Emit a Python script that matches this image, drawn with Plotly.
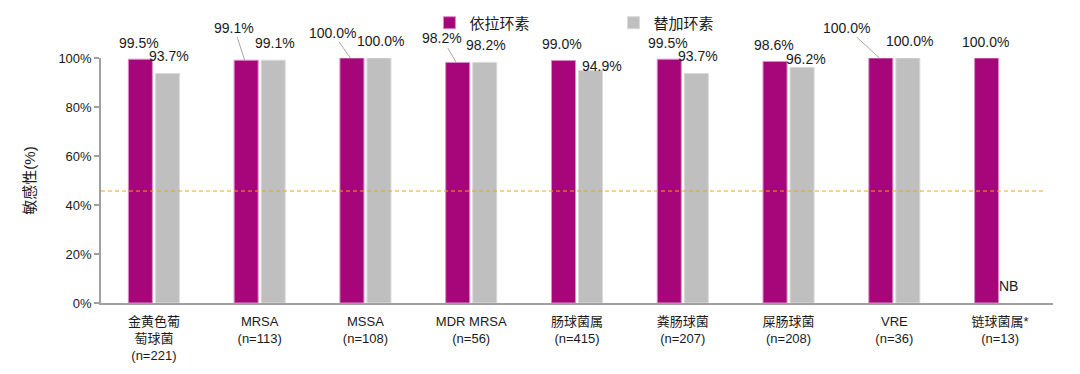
import plotly.graph_objects as go

# ---------------- data ----------------
categories = [
    "金黄色葡<br>萄球菌<br>(n=221)",
    "MRSA<br>(n=113)",
    "MSSA<br>(n=108)",
    "MDR MRSA<br>(n=56)",
    "肠球菌属<br>(n=415)",
    "粪肠球菌<br>(n=207)",
    "屎肠球菌<br>(n=208)",
    "VRE<br>(n=36)",
    "链球菌属*<br>(n=13)",
]
series_names = ["依拉环素", "替加环素"]
eravacycline = [99.5, 99.1, 100.0, 98.2, 99.0, 99.5, 98.6, 100.0, 100.0]
tigecycline = [93.7, 99.1, 100.0, 98.2, 94.9, 93.7, 96.2, 100.0, None]
missing_label = "NB"
reference_line = 45.7
y_ticks = [0, 20, 40, 60, 80, 100]
y_tick_text = [f"{t}%" for t in y_ticks]
y_title = "敏感性(%)"

# ---------------- style ----------------
FONT = "Liberation Sans, Arial, Noto Sans CJK SC, sans-serif"
MAGENTA = "#A6067A"
GRAY = "#BFBFBF"
TEXT = "#1a1a1a"
AXIS = "#A0A0A0"
BAR_OFF = 15  # px offset of each bar centre from the category centre

# label placement tweaks (pixel offsets) per series / category index
# (dx, dy_up) for plain labels; ("arrow", ax, ay) for labels with leader line
era_label_style = {1: ("arrow", -10.5, -32.5), 2: ("arrow", -18, -25.5),
                   3: ("arrow", -14, -24), 7: ("arrow", -33, -30.5)}
tgc_label_style = {4: (9.5, 4.5), 7: (0, 17), 6: (2.5, 8)}

fig = go.Figure()
fig.add_trace(go.Bar(
    x=categories, y=eravacycline, name=series_names[0],
    marker=dict(color=MAGENTA, line=dict(color="#D98CC4", width=1)),
))
fig.add_trace(go.Bar(
    x=categories, y=tigecycline, name=series_names[1],
    marker=dict(color=GRAY, line=dict(color="#DADADA", width=1)),
))

annotations = []
for i, (cat, v) in enumerate(zip(categories, eravacycline)):
    st = era_label_style.get(i)
    txt = f"{v:.1f}%"
    if st and st[0] == "arrow":
        annotations.append(dict(
            x=cat, y=v, xref="x", yref="y", text=txt, xshift=-BAR_OFF,
            showarrow=True, arrowhead=0, arrowwidth=1, arrowcolor="#A6A6A6",
            ax=st[1], ay=st[2], standoff=0,
            font=dict(family=FONT, size=14, color=TEXT)))
    else:
        dx, dy = st if st else (0, 16.5)
        annotations.append(dict(
            x=cat, y=v, xref="x", yref="y", text=txt, showarrow=False,
            xshift=-BAR_OFF + dx, yshift=dy, yanchor="middle",
            font=dict(family=FONT, size=14, color=TEXT)))

for i, (cat, v) in enumerate(zip(categories, tigecycline)):
    if v is None:
        annotations.append(dict(
            x=cat, y=0, xref="x", yref="y", text=missing_label, showarrow=False,
            xshift=BAR_OFF - 6.5, yshift=17, yanchor="middle",
            font=dict(family=FONT, size=14, color=TEXT)))
        continue
    dx, dy = tgc_label_style.get(i, (0, 17))
    annotations.append(dict(
        x=cat, y=v, xref="x", yref="y", text=f"{v:.1f}%", showarrow=False,
        xshift=BAR_OFF + dx, yshift=dy, yanchor="middle",
        font=dict(family=FONT, size=14, color=TEXT)))

fig.add_shape(type="line", xref="paper", yref="y", x0=0, x1=0.9895,
              y0=reference_line, y1=reference_line,
              line=dict(color="#F0A800", width=1, dash="4px,3px"))

# the page body adds an 8px margin, so the figure is 8px smaller on each axis
fig.update_layout(
    width=1072, height=366,
    margin=dict(l=93, r=27, t=50, b=71, autoexpand=False),
    paper_bgcolor="white", plot_bgcolor="white",
    font=dict(family=FONT, size=13, color=TEXT),
    barmode="group", bargap=0.489, bargroupgap=0.111,
    annotations=annotations,
    showlegend=True,
    legend=dict(orientation="h", x=0.345, xanchor="left", y=1.143, yanchor="middle",
                font=dict(family=FONT, size=15, color=TEXT),
                entrywidth=139, entrywidthmode="pixels",
                bgcolor="rgba(0,0,0,0)", itemwidth=30,
                traceorder="normal"),
    xaxis=dict(showline=True, linecolor=AXIS, linewidth=1.5,
               ticks="outside", ticklen=6, tickcolor="rgba(0,0,0,0)",
               showgrid=False, tickfont=dict(family=FONT, size=13, color=TEXT),
               range=[-0.5, 8.5]),
    yaxis=dict(range=[0, 100], tickvals=y_ticks, ticktext=y_tick_text,
               showline=True, linecolor=AXIS, linewidth=1.5,
               ticks="outside", ticklen=5, tickcolor=AXIS, tickwidth=1.5,
               showgrid=False, zeroline=False,
               tickfont=dict(family=FONT, size=13, color=TEXT),
               title=dict(text=y_title, standoff=19,
                          font=dict(family=FONT, size=15, color=TEXT))),
)

fig.write_html("out.html")
